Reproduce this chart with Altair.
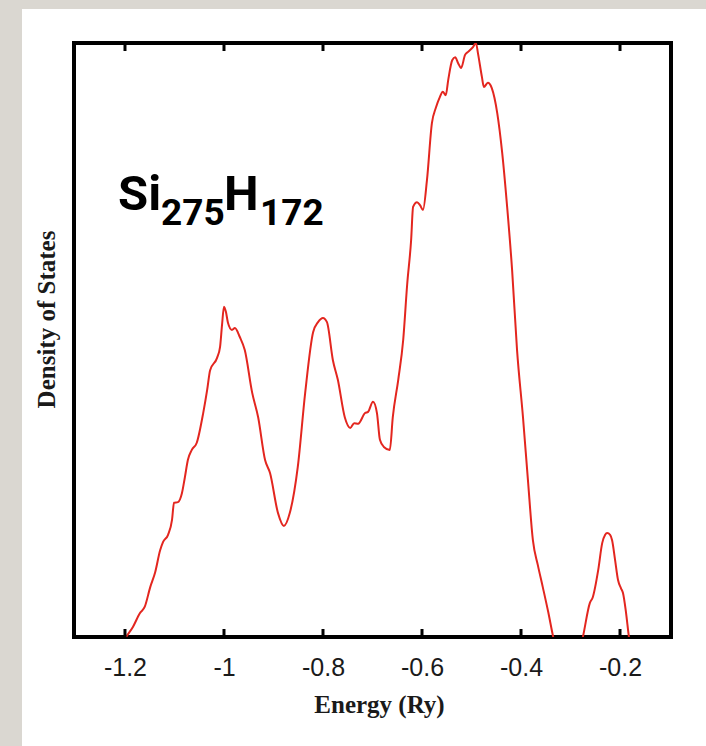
import altair as alt
import pandas as pd

# ---- data ----
energy = [-1.206, -1.196, -1.184, -1.170, -1.160, -1.149, -1.139, -1.129, -1.123, -1.113,
          -1.105, -1.101, -1.093, -1.085, -1.079, -1.073, -1.065, -1.055, -1.042, -1.034,
          -1.028, -1.014, -1.008, -1.004, -1.000, -0.996, -0.992, -0.984, -0.978, -0.968,
          -0.958, -0.943, -0.931, -0.917, -0.907, -0.891, -0.879, -0.867, -0.851, -0.836,
          -0.820, -0.810, -0.800, -0.792, -0.780, -0.770, -0.756, -0.745, -0.737, -0.729,
          -0.715, -0.709, -0.699, -0.691, -0.685, -0.677, -0.665, -0.659, -0.648, -0.638,
          -0.630, -0.622, -0.618, -0.610, -0.604, -0.598, -0.590, -0.580, -0.572, -0.564,
          -0.558, -0.552, -0.547, -0.539, -0.533, -0.527, -0.521, -0.513, -0.507, -0.497,
          -0.491, -0.487, -0.479, -0.475, -0.467, -0.459, -0.448, -0.438, -0.428, -0.418,
          -0.408, -0.396, -0.386, -0.376, -0.366, -0.356, -0.345, -0.335, -0.321, -0.305,
          -0.289, -0.275, -0.261, -0.255, -0.244, -0.236, -0.230, -0.226, -0.220, -0.216,
          -0.210, -0.204, -0.198, -0.194, -0.188, -0.182, -0.174]
dos = [-1.3, 0.2, 1.7, 4.0, 5.1, 8.4, 10.9, 14.6, 16.0, 17.2,
       19.7, 22.6, 22.7, 24.2, 26.9, 29.8, 31.5, 32.7, 37.7, 41.6,
       44.9, 47.0, 48.8, 52.5, 55.6, 54.7, 52.9, 51.7, 52.0, 50.5,
       48.3, 41.1, 37.0, 29.8, 27.6, 20.9, 18.7, 20.9, 28.6, 41.1,
       51.3, 53.0, 53.7, 53.0, 46.6, 43.3, 37.0, 35.2, 36.0, 35.9,
       37.7, 37.9, 39.6, 37.7, 33.2, 32.0, 31.5, 37.0, 43.3, 50.0,
       59.3, 66.8, 72.4, 73.2, 72.7, 71.9, 76.9, 86.5, 89.1, 90.9,
       91.8, 91.2, 93.8, 97.1, 97.6, 96.6, 95.8, 98.0, 98.5, 99.3,
       100.0, 98.3, 94.3, 92.6, 93.3, 92.4, 88.2, 81.5, 72.4, 61.8,
       48.3, 37.0, 26.4, 16.3, 12.1, 8.4, 4.2, 0.0, -4.7, -7.2,
       -4.7, 0.0, 5.7, 6.7, 11.3, 15.8, 17.2, 17.5, 17.2, 16.3,
       13.0, 9.6, 8.2, 7.4, 4.2, 0.0, -3.9]
tick_values = [-1.2, -1.0, -0.8, -0.6, -0.4, -0.2]
tick_labels = ["-1.2", "-1", "-0.8", "-0.6", "-0.4", "-0.2"]
formula_parts = ["Si", "275", "H", "172"]

W, H = 597, 594
xscale = alt.Scale(domain=[-1.303, -0.097], nice=False, zero=False)
yscale = alt.Scale(domain=[0, 100], nice=False, zero=False)

label_expr = ""
for v, l in zip(tick_values, tick_labels):
    label_expr += f"abs(datum.value - ({v})) < 1e-6 ? '{l}' : "
label_expr += "''"

df = pd.DataFrame({"energy": energy, "dos": dos})
ticks = pd.DataFrame({"energy": tick_values})
one = alt.Data(values=[{}])

xaxis = alt.Axis(
    values=tick_values, labelExpr=label_expr, ticks=False, tickSize=0, domain=False,
    grid=False, labelFont="Liberation Sans", labelFontSize=25, labelColor="#1a1a1a",
    labelPadding=38, labelBaseline="alphabetic", labelFlush=False, labelOverlap=False,
    title="Energy (Ry)", titleFont="Liberation Serif", titleFontWeight="bold",
    titleFontSize=25, titleColor="#1a1a1a", titleX=305, titleY=75,
    titleBaseline="alphabetic", titleAlign="center")

GRAY = "#dad7d1"
gray_left = alt.Chart(one).mark_rect(color=GRAY).encode(
    x=alt.value(-74), x2=alt.value(-52), y=alt.value(-43), y2=alt.value(H + 109))
gray_top = alt.Chart(one).mark_rect(color=GRAY).encode(
    x=alt.value(-74), x2=alt.value(W + 35), y=alt.value(-43), y2=alt.value(-34))

line = alt.Chart(df).mark_line(
    color="#e3261f", strokeWidth=2, clip=True, interpolate="monotone"
).encode(
    x=alt.X("energy:Q", scale=xscale, axis=xaxis),
    y=alt.Y("dos:Q", scale=yscale, axis=alt.Axis(
        labels=False, ticks=False, domain=False, grid=False,
        title="Density of States", titleFont="Liberation Serif", titleFontWeight="bold",
        titleFontSize=25, titleColor="#1a1a1a", titleAngle=-90, titleX=-28, titleY=276,
        titleAlign="center", titleBaseline="middle")),
)

bottom_ticks = alt.Chart(ticks).mark_rule(color="black", strokeWidth=3).encode(
    x=alt.X("energy:Q", scale=xscale, axis=xaxis), y=alt.value(H), y2=alt.value(H - 8))
top_ticks = alt.Chart(ticks).mark_rule(color="black", strokeWidth=3).encode(
    x=alt.X("energy:Q", scale=xscale, axis=xaxis), y=alt.value(0), y2=alt.value(8))

FORMULA_FONT = "Roboto"


def part(txt, x, y, size):
    return alt.Chart(one).mark_text(
        text=txt, font=FORMULA_FONT, fontWeight="bold", fontSize=size,
        align="left", baseline="alphabetic", color="black"
    ).encode(x=alt.value(x), y=alt.value(y))


texts = [
    part(formula_parts[0], 44, 167, 49),
    part(formula_parts[1], 87, 182, 37),
    part(formula_parts[2], 150, 167, 49),
    part(formula_parts[3], 186, 182, 37),
]

chart = alt.layer(gray_left, gray_top, line, bottom_ticks, top_ticks, *texts).properties(
    width=W, height=H,
    autosize=alt.AutoSizeParams(type="none"),
    padding={"left": 74, "top": 43, "right": 35, "bottom": 109},
    background="white",
).configure_view(stroke="black", strokeWidth=4)

chart.save("out.html", embed_options={"renderer": "svg", "actions": False})
